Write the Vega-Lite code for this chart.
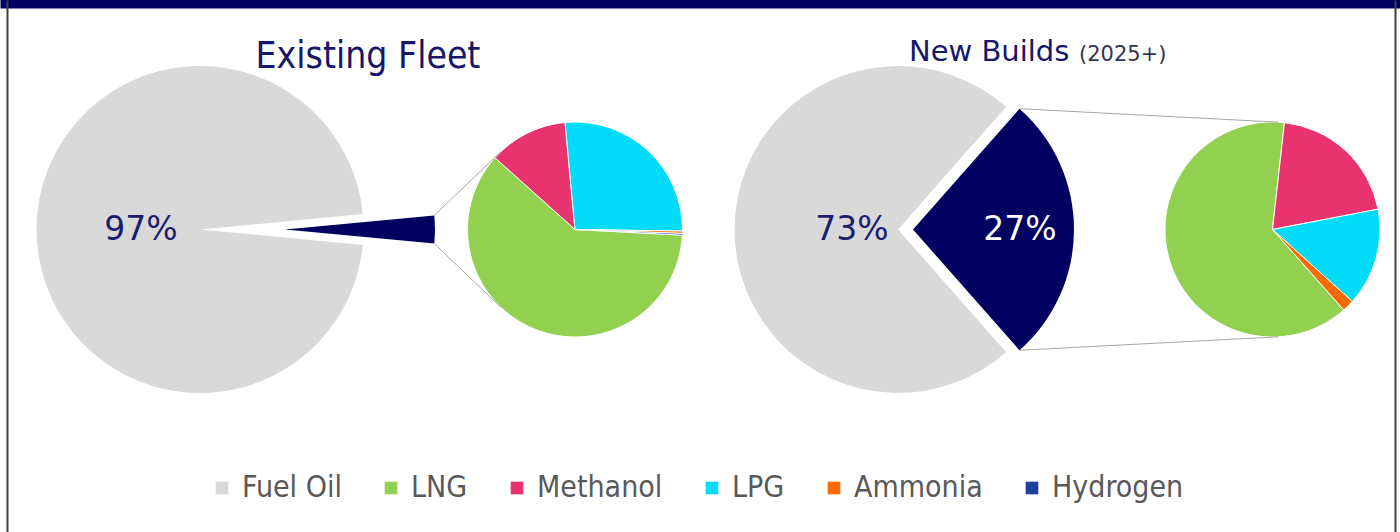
{
  "$schema": "https://vega.github.io/schema/vega-lite/v6.json",
  "width": 1400,
  "height": 532,
  "autosize": {"type": "none"},
  "padding": 0,
  "background": "white",
  "config": {
    "view": {"stroke": null},
    "axis": {"domain": false, "ticks": false, "labels": false, "grid": false, "title": null}
  },
  "datasets": {
    "fleet": [
      {"chart": "Existing Fleet", "pie": "main", "fuel": "Fuel Oil", "share": 97},
      {"chart": "Existing Fleet", "pie": "main", "fuel": "Alternative fuels", "share": 3},
      {"chart": "Existing Fleet", "pie": "detail", "fuel": "LNG", "share": 60.8},
      {"chart": "Existing Fleet", "pie": "detail", "fuel": "Methanol", "share": 11.9},
      {"chart": "Existing Fleet", "pie": "detail", "fuel": "LPG", "share": 26.7},
      {"chart": "Existing Fleet", "pie": "detail", "fuel": "Ammonia", "share": 0.35},
      {"chart": "Existing Fleet", "pie": "detail", "fuel": "Hydrogen", "share": 0.25},
      {"chart": "New Builds", "pie": "main", "fuel": "Fuel Oil", "share": 73},
      {"chart": "New Builds", "pie": "main", "fuel": "Alternative fuels", "share": 27},
      {"chart": "New Builds", "pie": "detail", "fuel": "LNG", "share": 63.3},
      {"chart": "New Builds", "pie": "detail", "fuel": "Methanol", "share": 20.2},
      {"chart": "New Builds", "pie": "detail", "fuel": "LPG", "share": 14.7},
      {"chart": "New Builds", "pie": "detail", "fuel": "Ammonia", "share": 1.8},
      {"chart": "New Builds", "pie": "detail", "fuel": "Hydrogen", "share": 0}
    ]
  },
  "layer": [
    {
      "data": {"name": "fleet"},
      "transform": [
        {"calculate": "indexof(['Alternative fuels','Fuel Oil','LNG','Methanol','LPG','Ammonia','Hydrogen'], datum.fuel)", "as": "ord"},
        {"calculate": "datum.fuel === 'Alternative fuels' ? datum.share : 0", "as": "altPart"},
        {"joinaggregate": [{"op": "sum", "field": "share", "as": "total"}, {"op": "sum", "field": "altPart", "as": "altShare"}], "groupby": ["chart", "pie"]},
        {"window": [{"op": "sum", "field": "share", "as": "cum"}], "sort": [{"field": "ord", "order": "ascending"}], "groupby": ["chart", "pie"], "frame": [null, 0]},
        {"calculate": "datum.pie === 'main' ? PI/2 - PI*datum.altShare/datum.total : (datum.chart === 'Existing Fleet' ? 93 : 138.5)*PI/180", "as": "rot"},
        {"calculate": "datum.rot + 2*PI*(datum.cum - datum.share)/datum.total", "as": "a0"},
        {"calculate": "datum.rot + 2*PI*datum.cum/datum.total", "as": "a1"},
        {"calculate": "(datum.a0 + datum.a1)/2", "as": "amid"},
        {"calculate": "datum.chart === 'Existing Fleet' ? (datum.pie === 'main' ? 200 : 575) : (datum.pie === 'main' ? 898 : 1272.5)", "as": "cx"},
        {"calculate": "229.5", "as": "cy"},
        {"calculate": "datum.fuel === 'Alternative fuels' ? (datum.chart === 'Existing Fleet' ? 85 : 15) : 0", "as": "explode"},
        {"calculate": "datum.cx + datum.explode*sin(datum.amid)", "as": "px"},
        {"calculate": "datum.cy - datum.explode*cos(datum.amid)", "as": "py"}
      ],
      "layer": [
        {
          "transform": [{"filter": "datum.pie === 'main' && datum.fuel !== 'Alternative fuels'"}],
          "mark": {"type": "arc", "radius": 163.5},
          "encoding": {
            "x": {"field": "px", "type": "quantitative", "scale": {"domain": [0, 1400], "nice": false, "zero": false}, "axis": {"orient": "top", "domain": true, "domainColor": "#000060", "domainWidth": 16}},
            "y": {"field": "py", "type": "quantitative", "scale": {"domain": [0, 532], "nice": false, "zero": false, "reverse": true}, "axis": {"orient": "left", "offset": -7, "domain": true, "domainColor": "#404040", "domainWidth": 2}},
            "theta": {"field": "a0", "type": "quantitative", "scale": null, "stack": null},
            "theta2": {"field": "a1"},
            "color": {
              "field": "fuel", "type": "nominal",
              "scale": {"domain": ["Fuel Oil", "LNG", "Methanol", "LPG", "Ammonia", "Hydrogen", "Alternative fuels"], "range": ["#d9d9d9", "#92d050", "#e8336e", "#00dcf8", "#ff6a00", "#2040a0", "#000060"]},
              "legend": {"orient": "none", "legendX": 207, "legendY": 473, "direction": "horizontal", "columns": 6, "title": null, "values": ["Fuel Oil", "LNG", "Methanol", "LPG", "Ammonia", "Hydrogen"], "symbolType": "square", "symbolSize": 160, "symbolStrokeWidth": 0, "labelFontSize": 30, "labelFont": "DejaVu Sans Condensed, Liberation Sans Narrow, sans-serif", "labelColor": "#595959", "labelOffset": 5, "columnPadding": 34, "labelLimit": 300}
            }
          }
        },
        {
          "transform": [{"filter": "datum.fuel === 'Alternative fuels' && datum.chart === 'Existing Fleet'"}],
          "mark": {"type": "arc", "radius": 150},
          "encoding": {
            "x": {"field": "px", "type": "quantitative", "scale": {"domain": [0, 1400], "nice": false, "zero": false}},
            "y": {"field": "py", "type": "quantitative", "scale": {"domain": [0, 532], "nice": false, "zero": false, "reverse": true}},
            "theta": {"field": "a0", "type": "quantitative", "scale": null, "stack": null},
            "theta2": {"field": "a1"},
            "color": {"field": "fuel", "type": "nominal"}
          }
        },
        {
          "transform": [{"filter": "datum.fuel === 'Alternative fuels' && datum.chart === 'New Builds'"}],
          "mark": {"type": "arc", "radius": 161},
          "encoding": {
            "x": {"field": "px", "type": "quantitative", "scale": {"domain": [0, 1400], "nice": false, "zero": false}},
            "y": {"field": "py", "type": "quantitative", "scale": {"domain": [0, 532], "nice": false, "zero": false, "reverse": true}},
            "theta": {"field": "a0", "type": "quantitative", "scale": null, "stack": null},
            "theta2": {"field": "a1"},
            "color": {"field": "fuel", "type": "nominal"}
          }
        },
        {
          "transform": [{"filter": "datum.pie === 'detail' && datum.share > 0"}],
          "mark": {"type": "arc", "radius": 107.5, "stroke": "white", "strokeWidth": 1},
          "encoding": {
            "x": {"field": "px", "type": "quantitative", "scale": {"domain": [0, 1400], "nice": false, "zero": false}},
            "y": {"field": "py", "type": "quantitative", "scale": {"domain": [0, 532], "nice": false, "zero": false, "reverse": true}},
            "theta": {"field": "a0", "type": "quantitative", "scale": null, "stack": null},
            "theta2": {"field": "a1"},
            "color": {"field": "fuel", "type": "nominal"}
          }
        },
        {
          "transform": [
            {"filter": "datum.fuel === 'Alternative fuels'"},
            {"fold": ["a0", "a1"], "as": ["corner", "ang"]},
            {"calculate": "datum.chart === 'Existing Fleet' ? 150 : 161", "as": "rn"},
            {"calculate": "datum.px + datum.rn*sin(datum.ang)", "as": "qx"},
            {"calculate": "datum.py - datum.rn*cos(datum.ang)", "as": "qy"},
            {"calculate": "datum.chart === 'Existing Fleet' ? 575 : 1272.5", "as": "dcx"},
            {"calculate": "sqrt(pow(datum.qx - datum.dcx, 2) + pow(datum.qy - datum.cy, 2))", "as": "dd"},
            {"calculate": "atan2(datum.qx - datum.dcx, datum.cy - datum.qy) + (datum.corner === 'a0' ? 1 : -1)*acos(107.5/datum.dd)", "as": "t"},
            {"calculate": "datum.dcx + 107.5*sin(datum.t)", "as": "tx"},
            {"calculate": "datum.cy - 107.5*cos(datum.t)", "as": "ty"}
          ],
          "mark": {"type": "rule", "color": "#a6a6a6", "strokeWidth": 1},
          "encoding": {
            "x": {"field": "qx", "type": "quantitative", "scale": {"domain": [0, 1400], "nice": false, "zero": false}},
            "y": {"field": "qy", "type": "quantitative", "scale": {"domain": [0, 532], "nice": false, "zero": false, "reverse": true}},
            "x2": {"field": "tx"},
            "y2": {"field": "ty"}
          }
        },
        {
          "transform": [
            {"filter": "datum.pie === 'main' && !(datum.chart === 'Existing Fleet' && datum.fuel === 'Alternative fuels')"},
            {"calculate": "datum.chart === 'Existing Fleet' ? 59 : (datum.fuel === 'Fuel Oil' ? 46 : 107)", "as": "lr"},
            {"calculate": "datum.px + datum.lr*sin(datum.amid)", "as": "lx"},
            {"calculate": "datum.py - datum.lr*cos(datum.amid)", "as": "ly"},
            {"calculate": "datum.share + '%'", "as": "label"}
          ],
          "mark": {"type": "text", "font": "DejaVu Sans", "fontSize": 33, "align": "center", "baseline": "middle"},
          "encoding": {
            "x": {"field": "lx", "type": "quantitative", "scale": {"domain": [0, 1400], "nice": false, "zero": false}},
            "y": {"field": "ly", "type": "quantitative", "scale": {"domain": [0, 532], "nice": false, "zero": false, "reverse": true}},
            "text": {"field": "label"},
            "color": {"condition": {"test": "datum.fuel === 'Alternative fuels'", "value": "white"}, "value": "#1c1c70"}
          }
        }
      ]
    },
    {
      "data": {"values": [{"title": "Existing Fleet"}]},
      "mark": {"type": "text", "font": "DejaVu Sans Condensed, Liberation Sans Narrow, sans-serif", "fontSize": 37, "align": "center", "baseline": "alphabetic", "color": "#16166a"},
      "encoding": {
        "x": {"datum": 368, "type": "quantitative", "scale": {"domain": [0, 1400], "nice": false, "zero": false}},
        "y": {"datum": 68, "type": "quantitative", "scale": {"domain": [0, 532], "nice": false, "zero": false, "reverse": true}, "axis": {"orient": "right", "offset": -5, "domain": true, "domainColor": "#404040", "domainWidth": 2}},
        "text": {"field": "title"}
      }
    },
    {
      "data": {"values": [{"title": "New Builds"}]},
      "mark": {"type": "text", "font": "DejaVu Sans", "fontSize": 29, "align": "left", "baseline": "alphabetic", "color": "#16166a"},
      "encoding": {
        "x": {"datum": 909, "type": "quantitative", "scale": {"domain": [0, 1400], "nice": false, "zero": false}},
        "y": {"datum": 61, "type": "quantitative", "scale": {"domain": [0, 532], "nice": false, "zero": false, "reverse": true}},
        "text": {"field": "title"}
      }
    },
    {
      "data": {"values": [{"title": "(2025+)"}]},
      "mark": {"type": "text", "font": "DejaVu Sans", "fontSize": 21, "align": "left", "baseline": "alphabetic", "color": "#333355"},
      "encoding": {
        "x": {"datum": 1079, "type": "quantitative", "scale": {"domain": [0, 1400], "nice": false, "zero": false}},
        "y": {"datum": 61, "type": "quantitative", "scale": {"domain": [0, 532], "nice": false, "zero": false, "reverse": true}},
        "text": {"field": "title"}
      }
    }
  ],
  "resolve": {"axis": {"y": "independent"}}
}
